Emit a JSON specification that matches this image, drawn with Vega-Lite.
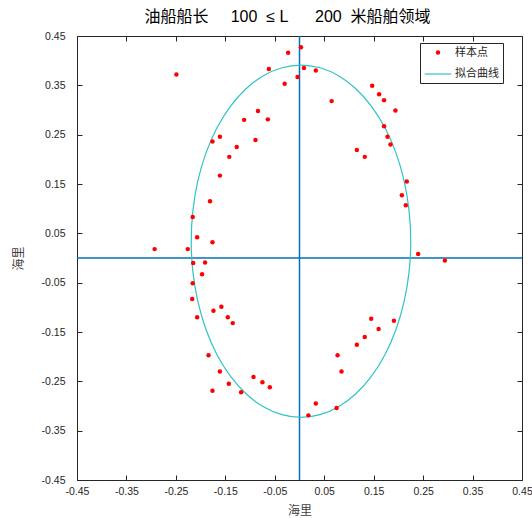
{
  "$schema": "https://vega.github.io/schema/vega-lite/v6.json",
  "width": 445,
  "height": 444,
  "autosize": {"type": "none"},
  "padding": {"left": 77, "top": 36, "right": 10, "bottom": 38},
  "background": "white",
  "config": {"view": {"stroke": null}},
  "title": {
    "text": "油船船长\u00a0\u00a0\u00a0\u00a0\u00a0100\u00a0\u00a0≤\u00a0L\u00a0\u00a0\u00a0\u00a0\u00a0\u00a0200\u00a0\u00a0米船舶领域",
    "font": "Liberation Sans, Noto Sans CJK SC",
    "fontSize": 16,
    "fontWeight": "normal",
    "color": "#000000",
    "anchor": "middle",
    "frame": "group",
    "baseline": "alphabetic",
    "offset": 12,
    "dx": -12,
    "dy": 19
  },
  "datasets": {
    "pts": [
      {"x": -0.249, "y": 0.372, "series": "样本点"},
      {"x": 0.003, "y": 0.427, "series": "样本点"},
      {"x": -0.023, "y": 0.416, "series": "样本点"},
      {"x": -0.062, "y": 0.383, "series": "样本点"},
      {"x": 0.009, "y": 0.385, "series": "样本点"},
      {"x": 0.033, "y": 0.380, "series": "样本点"},
      {"x": -0.004, "y": 0.367, "series": "样本点"},
      {"x": -0.030, "y": 0.353, "series": "样本点"},
      {"x": 0.065, "y": 0.318, "series": "样本点"},
      {"x": -0.084, "y": 0.298, "series": "样本点"},
      {"x": -0.112, "y": 0.280, "series": "样本点"},
      {"x": -0.064, "y": 0.281, "series": "样本点"},
      {"x": -0.161, "y": 0.246, "series": "样本点"},
      {"x": -0.176, "y": 0.236, "series": "样本点"},
      {"x": -0.089, "y": 0.239, "series": "样本点"},
      {"x": -0.127, "y": 0.225, "series": "样本点"},
      {"x": -0.142, "y": 0.205, "series": "样本点"},
      {"x": 0.147, "y": 0.349, "series": "样本点"},
      {"x": 0.161, "y": 0.332, "series": "样本点"},
      {"x": 0.171, "y": 0.320, "series": "样本点"},
      {"x": 0.194, "y": 0.299, "series": "样本点"},
      {"x": 0.171, "y": 0.267, "series": "样本点"},
      {"x": 0.178, "y": 0.246, "series": "样本点"},
      {"x": 0.184, "y": 0.230, "series": "样本点"},
      {"x": 0.116, "y": 0.219, "series": "样本点"},
      {"x": 0.132, "y": 0.205, "series": "样本点"},
      {"x": 0.217, "y": 0.155, "series": "样本点"},
      {"x": 0.207, "y": 0.127, "series": "样本点"},
      {"x": 0.215, "y": 0.107, "series": "样本点"},
      {"x": 0.240, "y": 0.008, "series": "样本点"},
      {"x": 0.294, "y": -0.005, "series": "样本点"},
      {"x": -0.161, "y": 0.167, "series": "样本点"},
      {"x": -0.181, "y": 0.115, "series": "样本点"},
      {"x": -0.216, "y": 0.083, "series": "样本点"},
      {"x": -0.207, "y": 0.042, "series": "样本点"},
      {"x": -0.176, "y": 0.032, "series": "样本点"},
      {"x": -0.293, "y": 0.018, "series": "样本点"},
      {"x": -0.226, "y": 0.018, "series": "样本点"},
      {"x": -0.215, "y": -0.010, "series": "样本点"},
      {"x": -0.191, "y": -0.009, "series": "样本点"},
      {"x": -0.197, "y": -0.033, "series": "样本点"},
      {"x": -0.216, "y": -0.051, "series": "样本点"},
      {"x": -0.217, "y": -0.083, "series": "样本点"},
      {"x": -0.174, "y": -0.107, "series": "样本点"},
      {"x": -0.158, "y": -0.099, "series": "样本点"},
      {"x": -0.207, "y": -0.120, "series": "样本点"},
      {"x": -0.145, "y": -0.120, "series": "样本点"},
      {"x": -0.135, "y": -0.132, "series": "样本点"},
      {"x": -0.184, "y": -0.197, "series": "样本点"},
      {"x": -0.161, "y": -0.230, "series": "样本点"},
      {"x": -0.143, "y": -0.255, "series": "样本点"},
      {"x": -0.176, "y": -0.269, "series": "样本点"},
      {"x": -0.118, "y": -0.272, "series": "样本点"},
      {"x": -0.093, "y": -0.241, "series": "样本点"},
      {"x": -0.075, "y": -0.252, "series": "样本点"},
      {"x": -0.060, "y": -0.262, "series": "样本点"},
      {"x": 0.145, "y": -0.123, "series": "样本点"},
      {"x": 0.191, "y": -0.127, "series": "样本点"},
      {"x": 0.160, "y": -0.144, "series": "样本点"},
      {"x": 0.132, "y": -0.160, "series": "样本点"},
      {"x": 0.116, "y": -0.176, "series": "样本点"},
      {"x": 0.077, "y": -0.197, "series": "样本点"},
      {"x": 0.085, "y": -0.230, "series": "样本点"},
      {"x": 0.033, "y": -0.295, "series": "样本点"},
      {"x": 0.075, "y": -0.304, "series": "样本点"},
      {"x": 0.018, "y": -0.319, "series": "样本点"}
    ],
    "ell": [
      {"t": 0, "x": 0.225, "y": 0.034},
      {"t": 10, "x": 0.2216, "y": 0.0960},
      {"t": 20, "x": 0.2116, "y": 0.1561},
      {"t": 30, "x": 0.1953, "y": 0.2125},
      {"t": 40, "x": 0.1731, "y": 0.2635},
      {"t": 50, "x": 0.1457, "y": 0.3075},
      {"t": 60, "x": 0.1140, "y": 0.3432},
      {"t": 70, "x": 0.0789, "y": 0.3695},
      {"t": 80, "x": 0.0415, "y": 0.3856},
      {"t": 90, "x": 0.003, "y": 0.391},
      {"t": 100, "x": -0.0355, "y": 0.3856},
      {"t": 110, "x": -0.0729, "y": 0.3695},
      {"t": 120, "x": -0.1080, "y": 0.3432},
      {"t": 130, "x": -0.1397, "y": 0.3075},
      {"t": 140, "x": -0.1671, "y": 0.2635},
      {"t": 150, "x": -0.1893, "y": 0.2125},
      {"t": 160, "x": -0.2056, "y": 0.1561},
      {"t": 170, "x": -0.2156, "y": 0.0960},
      {"t": 180, "x": -0.219, "y": 0.034},
      {"t": 190, "x": -0.2156, "y": -0.0280},
      {"t": 200, "x": -0.2056, "y": -0.0881},
      {"t": 210, "x": -0.1893, "y": -0.1445},
      {"t": 220, "x": -0.1671, "y": -0.1955},
      {"t": 230, "x": -0.1397, "y": -0.2395},
      {"t": 240, "x": -0.1080, "y": -0.2752},
      {"t": 250, "x": -0.0729, "y": -0.3015},
      {"t": 260, "x": -0.0355, "y": -0.3176},
      {"t": 270, "x": 0.003, "y": -0.323},
      {"t": 280, "x": 0.0415, "y": -0.3176},
      {"t": 290, "x": 0.0789, "y": -0.3015},
      {"t": 300, "x": 0.1140, "y": -0.2752},
      {"t": 310, "x": 0.1457, "y": -0.2395},
      {"t": 320, "x": 0.1731, "y": -0.1955},
      {"t": 330, "x": 0.1953, "y": -0.1445},
      {"t": 340, "x": 0.2116, "y": -0.0881},
      {"t": 350, "x": 0.2216, "y": -0.0280}
    ]
  },
  "resolve": {"axis": {"x": "independent", "y": "independent"}},
  "layer": [
    {
      "data": {"values": [{"v": 0}]},
      "mark": {"type": "rule", "color": "#0072BD", "strokeWidth": 1.5},
      "encoding": {
        "x": {"field": "v", "type": "quantitative", "scale": {"domain": [-0.45, 0.45], "nice": false, "zero": false},
          "axis": {"orient": "top", "values": [-0.45, -0.35, -0.25, -0.15, -0.05, 0.05, 0.15, 0.25, 0.35, 0.45], "labels": false, "title": null, "grid": false, "tickSize": -5, "tickColor": "#262626", "domainColor": "#262626", "domainWidth": 1}}
      }
    },
    {
      "data": {"values": [{"v": 0}]},
      "mark": {"type": "rule", "color": "#0072BD", "strokeWidth": 1.5},
      "encoding": {
        "y": {"field": "v", "type": "quantitative", "scale": {"domain": [-0.45, 0.45], "nice": false, "zero": false},
          "axis": {"orient": "right", "values": [-0.45, -0.35, -0.25, -0.15, -0.05, 0.05, 0.15, 0.25, 0.35, 0.45], "labels": false, "title": null, "grid": false, "tickSize": -5, "tickColor": "#262626", "domainColor": "#262626", "domainWidth": 1}}
      }
    },
    {
      "data": {"name": "ell"},
      "mark": {"type": "line", "color": "#30c3c3", "strokeWidth": 1.2, "interpolate": "cardinal-closed"},
      "encoding": {
        "x": {"field": "x", "type": "quantitative", "axis": null},
        "y": {"field": "y", "type": "quantitative", "axis": null},
        "order": {"field": "t", "type": "quantitative"}
      }
    },
    {
      "data": {"name": "pts"},
      "mark": {"type": "point", "opacity": 1, "strokeWidth": 1.2},
      "encoding": {
        "x": {"field": "x", "type": "quantitative",
          "axis": {"orient": "bottom", "values": [-0.45, -0.35, -0.25, -0.15, -0.05, 0.05, 0.15, 0.25, 0.35, 0.45], "labelExpr": "replace(format(datum.value, '.2f'), '\u2212', '-')", "title": "海里", "grid": false, "tickSize": -5, "tickColor": "#262626", "domainColor": "#262626", "domainWidth": 1, "labelFont": "Liberation Sans", "labelFontSize": 10.5, "labelColor": "#262626", "labelPadding": 11, "labelFlush": false, "titleFont": "Noto Sans CJK SC", "titleFontSize": 12, "titleFontWeight": "normal", "titleColor": "#404040", "titleBaseline": "middle", "titleY": 30}},
        "y": {"field": "y", "type": "quantitative",
          "axis": {"orient": "left", "values": [-0.45, -0.35, -0.25, -0.15, -0.05, 0.05, 0.15, 0.25, 0.35, 0.45], "labelExpr": "replace(format(datum.value, '.2f'), '\u2212', '-')", "title": "海里", "grid": false, "tickSize": -5, "tickColor": "#262626", "domainColor": "#262626", "domainWidth": 1, "labelFont": "Liberation Sans", "labelFontSize": 10.5, "labelColor": "#262626", "labelPadding": 17, "labelFlush": false, "titleFont": "Noto Sans CJK SC", "titleFontSize": 12, "titleFontWeight": "normal", "titleColor": "#404040", "titleBaseline": "middle", "titleX": -59, "titleY": 222}},
        "fill": {"field": "series", "type": "nominal",
          "scale": {"type": "ordinal", "domain": ["样本点", "拟合曲线"], "range": ["#ff0000", "transparent"]},
          "legend": {
            "title": null,
            "orient": "none", "legendX": 343, "legendY": 7,
            "strokeColor": "#262626", "fillColor": "white", "padding": 4,
            "labelFont": "Noto Sans CJK SC", "labelFontSize": 11, "labelColor": "#262626",
            "labelOffset": 3, "rowPadding": 2, "symbolStrokeWidth": 1.2, "symbolOpacity": 1
          }
        },
        "stroke": {"field": "series", "type": "nominal",
          "scale": {"type": "ordinal", "domain": ["样本点", "拟合曲线"], "range": ["transparent", "#30c3c3"]},
          "legend": {"title": null, "orient": "none", "legendX": 343, "legendY": 7}
        },
        "shape": {"field": "series", "type": "nominal",
          "scale": {"type": "ordinal", "domain": ["样本点", "拟合曲线"], "range": ["circle", "stroke"]},
          "legend": {"title": null, "orient": "none", "legendX": 343, "legendY": 7}
        },
        "size": {"field": "series", "type": "nominal",
          "scale": {"type": "ordinal", "domain": ["样本点", "拟合曲线"], "range": [20, 700]},
          "legend": {"title": null, "orient": "none", "legendX": 343, "legendY": 7}
        }
      }
    }
  ]
}
